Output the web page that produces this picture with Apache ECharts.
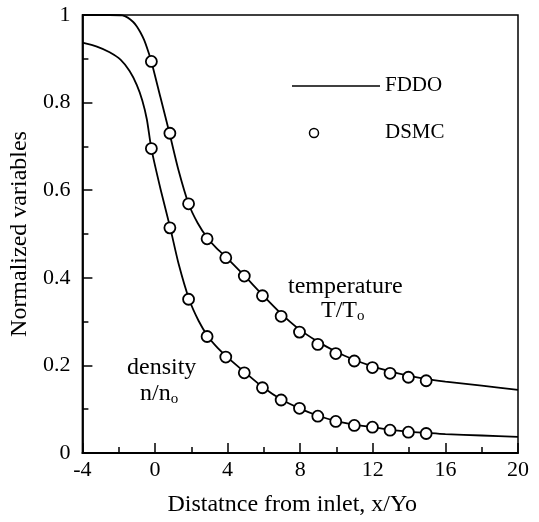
<!DOCTYPE html>
<html>
<head>
<meta charset="utf-8">
<script src="https://cdn.jsdelivr.net/npm/echarts@6/dist/echarts.min.js"></script>
<style>
  html, body { margin: 0; padding: 0; background: #fff; }
  #main { width: 539px; height: 522px; }
</style>
</head>
<body>
<div id="main"></div>
<script>
// FDDO curves
var tempLineX = [-4, -2.5, -1.8, -1.5, -1.2, -1.0, -0.8, -0.6, -0.4, -0.2, 0.3, 0.8, 1.3, 1.85, 2.35, 2.87, 3.4, 3.9, 4.9, 5.9, 6.9, 7.9, 8.9, 9.9, 10.9, 11.9, 12.9, 13.9, 14.9, 16, 18, 20];
var tempLineY = [1, 1, 0.999, 0.994, 0.984, 0.974, 0.96, 0.943, 0.92, 0.894, 0.812, 0.73, 0.645, 0.569, 0.525, 0.492, 0.467, 0.448, 0.406, 0.362, 0.32, 0.284, 0.256, 0.233, 0.214, 0.199, 0.187, 0.177, 0.169, 0.163, 0.154, 0.144];
var densLineX = [-4, -3.2, -2.5, -1.9, -1.4, -1.0, -0.7, -0.45, -0.2, 0.32, 0.84, 1.3, 1.88, 2.4, 2.92, 3.45, 3.98, 4.99, 5.95, 6.96, 7.96, 8.99, 9.97, 10.98, 11.98, 12.97, 13.94, 14.94, 16, 18, 20];
var densLineY = [0.937, 0.928, 0.915, 0.898, 0.872, 0.84, 0.805, 0.762, 0.695, 0.6, 0.514, 0.432, 0.351, 0.302, 0.266, 0.24, 0.219, 0.183, 0.15, 0.122, 0.102, 0.085, 0.073, 0.065, 0.059, 0.053, 0.049, 0.046, 0.043, 0.04, 0.037];

// DSMC points
var dsmcX = [-0.2, 0.82, 1.85, 2.87, 3.9, 4.92, 5.92, 6.95, 7.96, 8.97, 9.96, 10.98, 11.98, 12.95, 13.96, 14.94];
var tempDsmc = [0.894, 0.73, 0.569, 0.489, 0.446, 0.404, 0.359, 0.312, 0.276, 0.248, 0.227, 0.21, 0.195, 0.182, 0.173, 0.165];
var densDsmc = [0.695, 0.514, 0.351, 0.266, 0.219, 0.183, 0.149, 0.121, 0.102, 0.084, 0.072, 0.063, 0.059, 0.052, 0.0475, 0.0445];

var serif = "'Liberation Serif', 'DejaVu Serif', serif";

function pairs(xs, ys) {
  return xs.map(function (x, i) { return [x, ys[i]]; });
}

var chart = echarts.init(document.getElementById('main'));

var lineStyle = { color: '#000', width: 1.8 };
var dotStyle = { color: '#fff', borderColor: '#000', borderWidth: 1.8, opacity: 1 };

chart.setOption({
  animation: false,
  backgroundColor: '#fff',
  grid: {
    left: 79, right: 21, top: 15, bottom: 65,
    show: true, borderColor: '#000', borderWidth: 1.5
  },
  xAxis: {
    type: 'value', min: -4, max: 20, interval: 4,
    name: 'Distatnce from inlet, x/Yo',
    nameLocation: 'middle', nameGap: 40,
    nameTextStyle: { fontFamily: serif, fontSize: 24, color: '#000', padding: [0, 16, 0, 0] },
    axisLine: { onZero: false, lineStyle: { color: '#000', width: 1.8 } },
    axisTick: { inside: true, length: 10, lineStyle: { color: '#000', width: 1.5 } },
    minorTick: { show: true, splitNumber: 2, length: 6, lineStyle: { color: '#000', width: 1.5 } },
    axisLabel: { fontFamily: serif, fontSize: 22, color: '#000', margin: 6 },
    splitLine: { show: false }
  },
  yAxis: {
    type: 'value', min: 0, max: 1, interval: 0.2,
    name: 'Normalized variables',
    nameLocation: 'middle', nameGap: 44,
    nameTextStyle: { fontFamily: serif, fontSize: 24, color: '#000' },
    axisLine: { show: true, onZero: false, lineStyle: { color: '#000', width: 1.8 } },
    axisTick: { show: true, inside: true, length: 10, lineStyle: { color: '#000', width: 1.5 } },
    minorTick: { show: true, splitNumber: 2, length: 6, lineStyle: { color: '#000', width: 1.5 } },
    axisLabel: { fontFamily: serif, fontSize: 22, color: '#000', margin: 12 },
    splitLine: { show: false }
  },
  graphic: [
    { type: 'line', shape: { x1: 292, y1: 86, x2: 380, y2: 86 }, style: { stroke: '#000', lineWidth: 1.5 } },
    { type: 'text', left: 385, top: 75, style: { text: 'FDDO', font: '21px ' + serif, fill: '#000' } },
    { type: 'circle', shape: { cx: 314, cy: 133, r: 4.5 }, style: { fill: '#fff', stroke: '#000', lineWidth: 1.5 } },
    { type: 'text', left: 385, top: 122, style: { text: 'DSMC', font: '21px ' + serif, fill: '#000' } },
    { type: 'text', left: 288, top: 275, style: { text: 'temperature', font: '24px ' + serif, fill: '#000' } },
    { type: 'text', left: 321, top: 299, style: {
        text: 'T/T{s|o}', font: '24px ' + serif, fill: '#000',
        rich: { s: { fontSize: 15, fontFamily: serif, padding: [11, 0, 0, 0] } } } },
    { type: 'text', left: 127, top: 356, style: { text: 'density', font: '24px ' + serif, fill: '#000' } },
    { type: 'text', left: 140, top: 382, style: {
        text: 'n/n{s|o}', font: '24px ' + serif, fill: '#000',
        rich: { s: { fontSize: 15, fontFamily: serif, padding: [11, 0, 0, 0] } } } }
  ],
  series: [
    { name: 'FDDO', type: 'line', data: pairs(tempLineX, tempLineY), smooth: 0.25,
      showSymbol: false, lineStyle: lineStyle, z: 2 },
    { name: 'FDDO', type: 'line', data: pairs(densLineX, densLineY), smooth: 0.25,
      showSymbol: false, lineStyle: lineStyle, z: 2 },
    { name: 'DSMC', type: 'scatter', data: pairs(dsmcX, tempDsmc), symbol: 'circle',
      symbolSize: 11, itemStyle: dotStyle, z: 3 },
    { name: 'DSMC', type: 'scatter', data: pairs(dsmcX, densDsmc), symbol: 'circle',
      symbolSize: 11, itemStyle: dotStyle, z: 3 }
  ]
});
</script>
</body>
</html>
